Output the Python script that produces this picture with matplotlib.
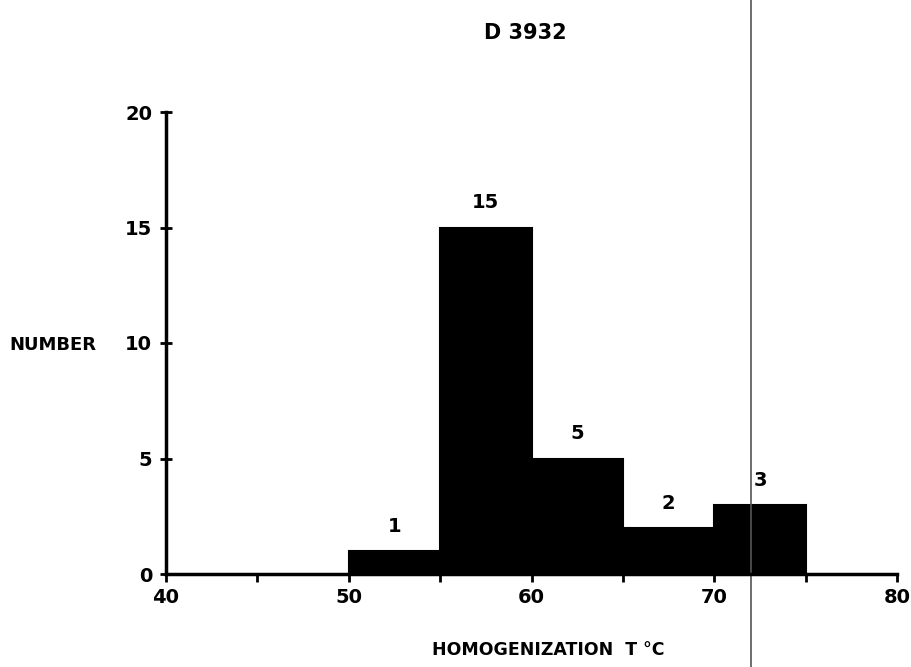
import matplotlib
matplotlib.use("Agg")
import matplotlib.pyplot as plt

bin_edges = [50, 55, 60, 65, 70, 75]
counts = [1, 15, 5, 2, 3]
x_ticks_major = [40, 50, 60, 70, 80]
x_ticks_minor = [45, 55, 65, 75]
y_ticks = [0, 5, 10, 15, 20]
marker_line_x = 72.0

plt.rcParams['font.family'] = ['DejaVu Sans']
fig = plt.figure(figsize=(9.11, 6.67), dpi=100)
ax = fig.add_axes([166/911, 93/667, (897-166)/911, (574-112)/667])

lefts = bin_edges[:-1]
widths = [b - a for a, b in zip(bin_edges[:-1], bin_edges[1:])]
ax.bar(lefts, counts, width=widths, align='edge', color='black', edgecolor='black', linewidth=1.5)
for l, w, c in zip(lefts, widths, counts):
    ax.text(l + w/2, c + 0.65, str(c), ha='center', va='bottom', fontsize=14, fontweight='bold')

ax.set_xlim(40, 80)
ax.set_ylim(0, 20)
for s in ['top', 'right']:
    ax.spines[s].set_visible(False)
for s in ['left', 'bottom']:
    ax.spines[s].set_linewidth(2.5)

ax.set_xticks(x_ticks_major)
ax.set_xticks(x_ticks_minor, minor=True)
ax.set_yticks(y_ticks)
ax.tick_params(axis='x', which='both', direction='out', length=6, width=2, labelsize=14, pad=4)
ax.tick_params(axis='y', direction='inout', length=8, width=2, labelsize=14, pad=6)
for lab in ax.get_xticklabels() + ax.get_yticklabels():
    lab.set_fontweight('bold')

ax.axvline(marker_line_x, ymin=-0.21, ymax=1.25, clip_on=False, color='#555555', linewidth=1.2)

fig.text(525/911, 1 - 33/667, 'D 3932', ha='center', va='center', fontsize=15, fontweight='bold')
fig.text(9/911, 1 - 345/667, 'NUMBER', ha='left', va='center', fontsize=13, fontweight='bold')
fig.text(548/911, 1 - 650/667, 'HOMOGENIZATION  T °C', ha='center', va='center', fontsize=12.5, fontweight='bold')

fig.savefig('out.png', dpi=100)
